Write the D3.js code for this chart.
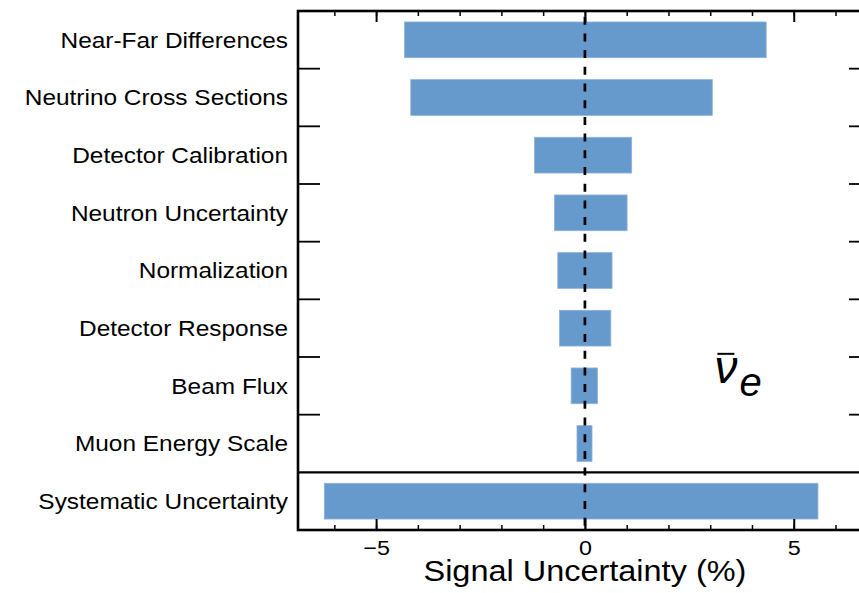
<!DOCTYPE html>
<html>
<head>
<meta charset="utf-8">
<script src="https://cdn.jsdelivr.net/npm/d3@7"></script>
<style>
  body { margin: 0; background: #fff; }
  text { font-family: "Liberation Sans", Arial, Helvetica, sans-serif; fill: #000; }
</style>
</head>
<body>
<div class="container"></div>
<script>
const WIDTH = 859;
const HEIGHT = 593;

var categories = [
  "Near-Far Differences",
  "Neutrino Cross Sections",
  "Detector Calibration",
  "Neutron Uncertainty",
  "Normalization",
  "Detector Response",
  "Beam Flux",
  "Muon Energy Scale",
  "Systematic Uncertainty"
];
var lowValues = [-4.32, -4.17, -1.21, -0.73, -0.65, -0.61, -0.33, -0.19, -6.24];
var highValues = [4.34, 3.05, 1.12, 1.01, 0.65, 0.62, 0.30, 0.17, 5.58];
var majorTicks = [-5, 0, 5];
var minorTicks = [-6, -5, -4, -3, -2, -1, 0, 1, 2, 3, 4, 5, 6];
var xTitle = "Signal Uncertainty (%)";

var rows = categories.map(function (c, i) {
  return {name: c, lo: lowValues[i], hi: highValues[i]};
});

var xScale = d3.scaleLinear()
    .domain([-6.87, 6.85])
    .range([298, 871]);

var yScale = d3.scaleBand()
    .domain(categories)
    .range([11, 530]);

var STRETCH = 1.11;

var svg = d3.select('.container').append('svg')
    .attr('width', WIDTH)
    .attr('height', HEIGHT);

// bars
var barH = yScale.bandwidth() * 0.62;
svg.append('g').selectAll('rect').data(rows)
  .enter().append('rect')
    .attr('x', function (d) { return xScale(d.lo); })
    .attr('width', function (d) { return xScale(d.hi) - xScale(d.lo); })
    .attr('y', function (d) { return yScale(d.name) + (yScale.bandwidth() - barH) / 2; })
    .attr('height', barH)
    .attr('fill', '#6699cc')
    .attr('stroke', '#8fb3da')
    .attr('stroke-width', 0.8);

// zero line
svg.append('line')
    .attr('x1', xScale(0)).attr('x2', xScale(0))
    .attr('y1', yScale.range()[0]).attr('y2', yScale.range()[1])
    .attr('stroke', '#000')
    .attr('stroke-width', 2.7)
    .attr('stroke-dasharray', '8,8.7')
    .attr('stroke-dashoffset', 11);

// x axes: minor and major ticks, inward
var bottomY = yScale.range()[1];
var topY = yScale.range()[0];

svg.append('g')
    .attr('transform', 'translate(0,' + bottomY + ')')
    .call(d3.axisBottom(xScale).tickValues(minorTicks).tickSizeInner(-5).tickSizeOuter(0).tickFormat(''))
    .call(function (g) { g.select('.domain').remove(); g.selectAll('line').attr('stroke-width', 1.5); });

var bAxis = svg.append('g')
    .attr('transform', 'translate(0,' + bottomY + ')')
    .call(d3.axisBottom(xScale).tickValues(majorTicks).tickSizeInner(-11).tickSizeOuter(0).tickPadding(10));
bAxis.select('.domain').remove();
bAxis.selectAll('line').attr('stroke-width', 2);
bAxis.selectAll('text')
    .attr('font-size', 21)
    .attr('font-family', '"Liberation Sans", Arial, sans-serif')
    .each(function () {
      var t = d3.select(this);
      t.attr('transform', 'translate(0,' + t.attr('y') + ') scale(' + STRETCH + ',1)').attr('y', 0);
    });

svg.append('g')
    .attr('transform', 'translate(0,' + topY + ')')
    .call(d3.axisTop(xScale).tickValues(minorTicks).tickSizeInner(-5).tickSizeOuter(0).tickFormat(''))
    .call(function (g) { g.select('.domain').remove(); g.selectAll('line').attr('stroke-width', 1.5); });

svg.append('g')
    .attr('transform', 'translate(0,' + topY + ')')
    .call(d3.axisTop(xScale).tickValues(majorTicks).tickSizeInner(-11).tickSizeOuter(0).tickFormat(''))
    .call(function (g) { g.select('.domain').remove(); g.selectAll('line').attr('stroke-width', 2); });

// y ticks at row boundaries, both sides
var bounds = categories.slice(1, categories.length - 1).map(function (c) { return yScale(c); });
var left = xScale.range()[0];
var right = xScale.range()[1];
svg.append('g').selectAll('line.ly').data(bounds)
  .enter().append('line')
    .attr('x1', left).attr('x2', left + 22)
    .attr('y1', function (d) { return d; }).attr('y2', function (d) { return d; })
    .attr('stroke', '#000').attr('stroke-width', 1.8);
svg.append('g').selectAll('line.ry').data(bounds)
  .enter().append('line')
    .attr('x1', right - 22).attr('x2', right)
    .attr('y1', function (d) { return d; }).attr('y2', function (d) { return d; })
    .attr('stroke', '#000').attr('stroke-width', 1.8);

// separator before total
var sepY = yScale(categories[categories.length - 1]);
svg.append('line')
    .attr('x1', left).attr('x2', right)
    .attr('y1', sepY).attr('y2', sepY)
    .attr('stroke', '#000').attr('stroke-width', 2.2);

// frame
svg.append('rect')
    .attr('x', left).attr('y', topY)
    .attr('width', right - left).attr('height', bottomY - topY)
    .attr('fill', 'none')
    .attr('stroke', '#000')
    .attr('stroke-width', 2.6);

// category labels
svg.append('g').selectAll('text').data(categories)
  .enter().append('text')
    .attr('transform', function (d) {
      return 'translate(288,' + (yScale(d) + yScale.bandwidth() / 2) + ') scale(' + STRETCH + ',1)';
    })
    .attr('dy', '0.36em')
    .attr('text-anchor', 'end')
    .attr('font-size', 22)
    .text(function (d) { return d; });

// x title
svg.append('text')
    .attr('transform', 'translate(' + xScale(0) + ',581) scale(1.12,1)')
    .attr('text-anchor', 'middle')
    .attr('font-size', 29)
    .text(xTitle);

// nu-bar-e annotation
var ax = xScale(3.1);
var ay = yScale('Beam Flux') + yScale.bandwidth() / 2 - 3;
var nu = svg.append('g').attr('transform', 'translate(' + ax + ',' + ay + ')');
nu.append('text')
    .attr('x', 0).attr('y', 0)
    .attr('font-family', '"Liberation Serif", "DejaVu Serif", serif')
    .attr('font-style', 'italic')
    .attr('font-size', 46)
    .text('\u03bd');
nu.append('text')
    .attr('x', 25).attr('y', 13)
    .attr('font-family', '"Liberation Serif", "DejaVu Serif", serif')
    .attr('font-style', 'italic')
    .attr('font-size', 40)
    .text('e');
nu.append('line')
    .attr('x1', 3).attr('x2', 20)
    .attr('y1', -29).attr('y2', -29)
    .attr('stroke', '#000').attr('stroke-width', 2);
</script>
</body>
</html>
